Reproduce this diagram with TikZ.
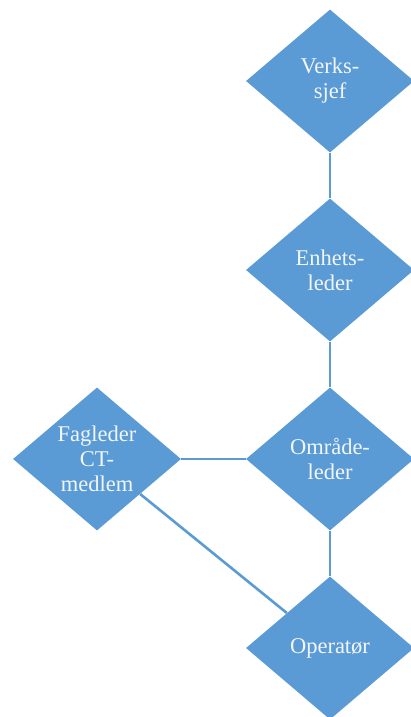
\documentclass[tikz,border=0pt]{standalone}
\usepackage{fontspec}
\setmainfont{Liberation Serif}
\usetikzlibrary{shapes.geometric}

\definecolor{cor_caixa}{HTML}{5B9BD5}
\definecolor{cor_linha}{HTML}{5B9BD5}
\definecolor{cor_texto}{HTML}{F2F6FB}

\begin{document}
\begin{tikzpicture}[x=1pt,y=-1pt]
        \tikzset{
            losango/.style={
                diamond,
                fill=cor_caixa,
                text=cor_texto,
                align=center,
                inner sep=-8pt,
                minimum width=168pt,
                minimum height=143pt,
                font=\fontsize{22.5}{25}\selectfont
            },
            linha/.style={
                draw=cor_linha,
                line width=2.6pt
            }
        }
        \useasboundingbox (0,0) rectangle (410,717);

        %caixas
        \node[losango] (verk) at (330,81) {Verks-\\sjef};
        \node[losango] (enh) at (330,270) {Enhets-\\leder};
        \node[losango] (omr) at (330,459) {Område-\\leder};
        \node[losango] (fag) at (97,459) {Fagleder\\CT-\\medlem};
        \node[losango] (op) at (330,648) {Operatør};

        %linjer
        \draw[linha] (verk) -- (enh);
        \draw[linha] (enh) -- (omr);
        \draw[linha] (omr) -- (op);
        \draw[linha] (fag) -- (omr);
        \draw[linha] (fag) -- (op);

    \end{tikzpicture}
\end{document}
